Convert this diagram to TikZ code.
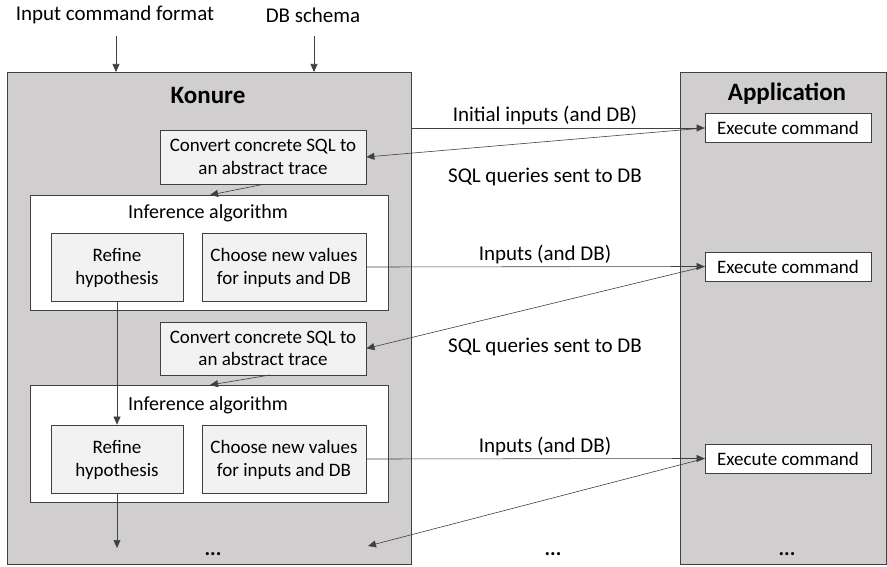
\documentclass[tikz,border=0pt]{standalone}
\usepackage{fontspec}
\setmainfont{Carlito}
\usetikzlibrary{arrows.meta}
\definecolor{panel}{HTML}{D0CECE}
\definecolor{step}{HTML}{F2F2F2}
\definecolor{edge}{HTML}{404040}
\begin{document}
\begin{tikzpicture}[x=1pt,y=-1pt,
  txt/.style={font=\fontsize{21}{24}\selectfont, inner sep=0pt},
  panelbox/.style={draw=edge, line width=0.8pt, fill=panel},
  whitebox/.style={draw=edge, line width=0.8pt, fill=white},
  stepbox/.style={draw=edge, line width=0.8pt, fill=step, align=center,
    font=\fontsize{19}{22.5}\selectfont},
  execbox/.style={draw=edge, line width=0.8pt, fill=white,
    font=\fontsize{19}{22}\selectfont},
  flow/.style={draw=edge, line width=0.6pt, -{Triangle[length=8pt,width=7pt]}},
  dots/.style={txt, font=\fontsize{21}{24}\selectfont\bfseries},
]
\useasboundingbox (0,0) rectangle (887,567);

% outer panels
\path[panelbox] (7,72) rectangle (411,564);
\path[panelbox] (680,72) rectangle (886,564);
\node[txt, font=\fontsize{25}{28}\selectfont\bfseries] (konure) at (208,95) {Konure};
\node[txt, font=\fontsize{25}{28}\selectfont\bfseries] (app) at (787,94) {Application};

% external inputs
\node[txt] (fmt) at (115,15) {Input command format};
\node[txt] (schema) at (313,15) {DB schema};
\coordinate (fmtsrc) at (116,36);
\coordinate (schemasrc) at (314,36);
\coordinate (fmtin) at (116,72);
\coordinate (schemain) at (314,72);
\draw[flow] (fmtsrc) -- (fmtin);
\draw[flow] (schemasrc) -- (schemain);

% first round
\node[stepbox, minimum width=206, minimum height=54] (conv1) at (263,157)
  {Convert concrete SQL to\\an abstract trace};
\node[whitebox, minimum width=358, minimum height=115] (inf1) at (209,252.5) {};
\node[txt, font=\fontsize{20}{24}\selectfont] (inf1t) at (208,213) {Inference algorithm};
\node[stepbox, minimum width=132, minimum height=68, text depth=1pt] (ref1) at (117,267)
  {Refine\\hypothesis};
\node[stepbox, minimum width=164, minimum height=68, text depth=1pt] (cho1) at (284,267)
  {Choose new values\\for inputs and DB};

% second round
\node[stepbox, minimum width=206, minimum height=53] (conv2) at (263,348.5)
  {Convert concrete SQL to\\an abstract trace};
\node[whitebox, minimum width=358, minimum height=117] (inf2) at (209,443.5) {};
\node[txt, font=\fontsize{20}{24}\selectfont] (inf2t) at (208,405) {Inference algorithm};
\node[stepbox, minimum width=132, minimum height=68, text depth=1pt] (ref2) at (117,459)
  {Refine\\hypothesis};
\node[stepbox, minimum width=164, minimum height=68, text depth=1pt] (cho2) at (284,459)
  {Choose new values\\for inputs and DB};

% application side
\node[execbox, minimum width=166, minimum height=29] (ex1) at (788,128) {Execute command};
\node[execbox, minimum width=166, minimum height=29] (ex2) at (788,266.5) {Execute command};
\node[execbox, minimum width=166, minimum height=29] (ex3) at (788,458.5) {Execute command};

% ellipses
\node[dots] (dotsa) at (213,554) {...};
\node[dots] (dotsb) at (553,554) {...};
\node[dots] (dotsc) at (787,554) {...};

% message labels
\node[txt] (l1) at (545,116) {Initial inputs (and DB)};
\node[txt] (l2) at (545,177) {SQL queries sent to DB};
\node[txt] (l3) at (545,255) {Inputs (and DB)};
\node[txt] (l4) at (545,347) {SQL queries sent to DB};
\node[txt] (l5) at (545,447) {Inputs (and DB)};

% connectors
\coordinate (start) at (411,128);
\coordinate (inf1in) at (210,195);
\coordinate (conv2out) at (270,375);
\coordinate (inf2in) at (210,385);
\coordinate (endk) at (368,546);
\coordinate (down) at (117,548);
\draw[flow] (start) -- (ex1.west);
\draw[flow] (ex1.west) -- (conv1.east);
\draw[flow] (conv1.south) -- (inf1in);
\draw[flow] (cho1.east) -- (ex2.west);
\draw[flow] (ex2.west) -- (conv2.east);
\draw[flow] (conv2out) -- (inf2in);
\draw[flow] (ref1.south) -- (ref2.north);
\draw[flow] (cho2.east) -- (ex3.west);
\draw[flow] (ex3.west) -- (endk);
\draw[flow] (ref2.south) -- (down);
\end{tikzpicture}
\end{document}
